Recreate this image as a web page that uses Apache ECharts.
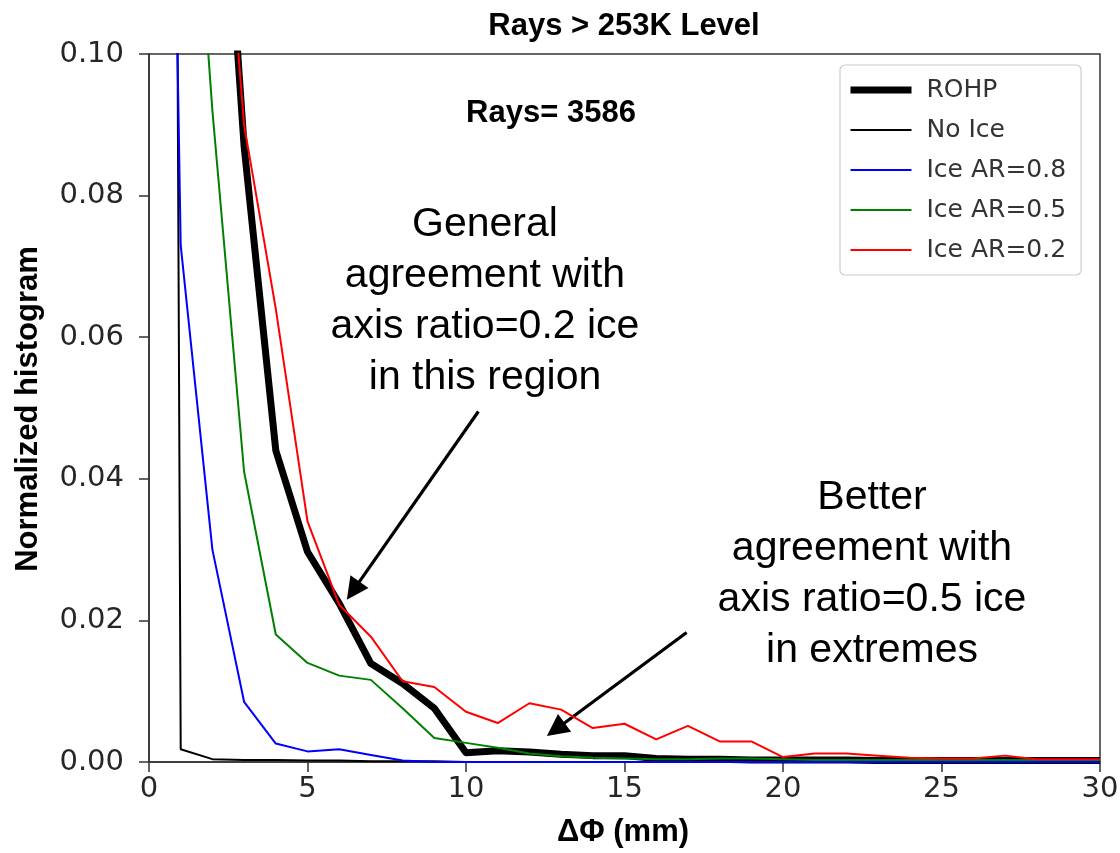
<!DOCTYPE html>
<html>
<head>
<meta charset="utf-8">
<script src="https://cdn.jsdelivr.net/npm/echarts@6/dist/echarts.min.js"></script>
<style>html,body{margin:0;padding:0;background:#fff}#c{width:1120px;height:853px}</style>
</head>
<body>
<div id="c"></div>
<script>
// ---- data ----
const xValues = [0,1,2,3,4,5,6,7,8,9,10,11,12,13,14,15,16,17,18,19,20,21,22,23,24,25,26,27,28,29,30];
const rohp    = [0.60,0.35,0.152,0.087,0.044,0.0297,0.0224,0.0139,0.0111,0.0076,0.0013,0.0016,0.0014,0.0011,0.0009,0.0009,0.0005,0.0004,0.0004,0.0003,0.0003,0.0003,0.0003,0.0002,0.0002,0.0002,0.0002,0.0002,0.0002,0.0002,0.0002];
const noIce   = [1.00,0.0018,0.0004,0.0003,0.0003,0.0002,0.0002,0.0001,0.0001,0.0001,0,0,0,0,0,0,0,0,0,0,0,0,0,0,0,0,0,0,0,0,0];
const iceAR08 = [0.34,0.073,0.030,0.0085,0.0026,0.0015,0.0018,0.0010,0.0002,0,0,0,0,0,0,0,0,0,0,0,0,0,0,0,0,0,0,0,0,0,0];
const iceAR05 = [0.50,0.154,0.092,0.041,0.018,0.014,0.0122,0.0116,0.0076,0.0034,0.0027,0.0020,0.0012,0.0008,0.0006,0.0005,0.0004,0.0004,0.0005,0.0005,0.0004,0.0003,0.0003,0.0003,0.0003,0.0003,0.0003,0.0003,0.0003,0.0003,0.0003];
const iceAR02 = [0.60,0.30,0.146,0.090,0.064,0.034,0.0222,0.0177,0.0114,0.0106,0.0071,0.0055,0.0083,0.0074,0.0048,0.0054,0.0032,0.0051,0.0029,0.0029,0.0007,0.0012,0.0012,0.0009,0.0006,0.0005,0.0005,0.0009,0.0004,0.0004,0.0004];
const seriesNames = ['ROHP','No Ice','Ice AR=0.8','Ice AR=0.5','Ice AR=0.2'];
const xTicks = [0,5,10,15,20,25,30];
const yTicks = [0.00,0.02,0.04,0.06,0.08,0.10];
// annotation arrows [tail, head] in data coordinates
const arrow1 = [[10.39,0.0495],[6.44,0.0242]];
const arrow2 = [[16.96,0.0183],[12.83,0.0046]];
const note1 = 'General\nagreement with\naxis ratio=0.2 ice\nin this region';
const note2 = 'Better\nagreement with\naxis ratio=0.5 ice\nin extremes';

const pairs = arr => xValues.map((x,i)=>[x,arr[i]]);
const colors = ['#000000','#000000','#0000ff','#008000','#ff0000'];
const widths = [7,2,2,2,2];
const allData = [rohp,noIce,iceAR08,iceAR05,iceAR02];

const chart = echarts.init(document.getElementById('c'), null, {renderer:'canvas'});

const series = allData.map((d,i)=>({
  name: seriesNames[i],
  type: 'line',
  data: pairs(d),
  symbol: 'none',
  showSymbol: false,
  clip: true,
  z: 2+i,
  lineStyle: {color: colors[i], width: widths[i], join: 'round'},
  itemStyle: {color: colors[i]},
  emphasis: {disabled: true},
  animation: false
}));

series.push({
  name: 'arrows',
  type: 'line',
  data: [],
  symbol: 'none',
  z: 20,
  animation: false,
  markLine: {
    silent: true,
    animation: false,
    symbol: ['none','triangle'],
    symbolSize: 22,
    label: {show: false},
    emphasis: {disabled: true},
    lineStyle: {color:'#000', width:3.2, type:'solid'},
    itemStyle: {color:'#000'},
    data: [
      [{coord: arrow1[0]},{coord: arrow1[1]}],
      [{coord: arrow2[0]},{coord: arrow2[1]}]
    ]
  }
});

const tickFont = {fontFamily:'DejaVu Sans', fontSize:29, color:'#262626'};

chart.setOption({
  backgroundColor:'#ffffff',
  animation:false,
  grid:{left:149,right:20,top:54,bottom:91,containLabel:false,outerBoundsMode:'none',
        show:true,borderColor:'#333',borderWidth:1.5,backgroundColor:'transparent'},
  xAxis:{
    type:'value',min:xTicks[0],max:xTicks[xTicks.length-1],interval:5,
    axisLine:{show:true,lineStyle:{color:'#333',width:1.5}},
    axisTick:{show:true,inside:false,length:10,lineStyle:{color:'#333',width:1.5}},
    axisLabel:Object.assign({margin:13,formatter:v=>String(v)},tickFont),
    splitLine:{show:false}
  },
  yAxis:{
    type:'value',min:yTicks[0],max:yTicks[yTicks.length-1],interval:0.02,
    axisLine:{show:true,lineStyle:{color:'#333',width:1.5}},
    axisTick:{show:true,inside:false,length:10,lineStyle:{color:'#333',width:1.5}},
    axisLabel:Object.assign({margin:25,formatter:v=>v.toFixed(2)},tickFont),
    splitLine:{show:false}
  },
  legend:{
    show:true,orient:'vertical',left:840,top:65,
    padding:[11,15,11,7],itemWidth:61,itemHeight:14,itemGap:12,
    backgroundColor:'#ffffff',borderColor:'#cccccc',borderWidth:1.2,borderRadius:5,
    selectedMode:false,
    textStyle:{fontFamily:'DejaVu Sans',fontSize:25,color:'#333',lineHeight:28,padding:[0,0,0,10]},
    data: seriesNames.map((n,i)=>({name:n,itemStyle:{opacity:0},lineStyle:{width:widths[i],color:colors[i]}}))
  },
  graphic:[
    {type:'text',x:624,y:26,z:50,style:{text:'Rays > 253K Level',font:'bold 31px "Liberation Sans", Arial, sans-serif',fill:'#000',align:'center',verticalAlign:'middle'}},
    {type:'text',x:551,y:113,z:50,style:{text:'Rays= 3586',font:'bold 31px "Liberation Sans", Arial, sans-serif',fill:'#000',align:'center',verticalAlign:'middle'}},
    {type:'text',x:28,y:409,rotation:Math.PI/2,z:50,style:{text:'Normalized histogram',font:'bold 31px "Liberation Sans", Arial, sans-serif',fill:'#000',align:'center',verticalAlign:'middle'}},
    {type:'text',x:623,y:832,z:50,style:{text:'ΔΦ (mm)',font:'bold 31px "Liberation Sans", Arial, sans-serif',fill:'#000',align:'center',verticalAlign:'middle'}},
    {type:'text',x:485,y:301,z:50,style:{text:note1,font:'41px "Liberation Sans", Arial, sans-serif',lineHeight:51,fill:'#000',align:'center',verticalAlign:'middle'}},
    {type:'text',x:872,y:574,z:50,style:{text:note2,font:'41px "Liberation Sans", Arial, sans-serif',lineHeight:51,fill:'#000',align:'center',verticalAlign:'middle'}}
  ],
  series: series
});
</script>
</body>
</html>
